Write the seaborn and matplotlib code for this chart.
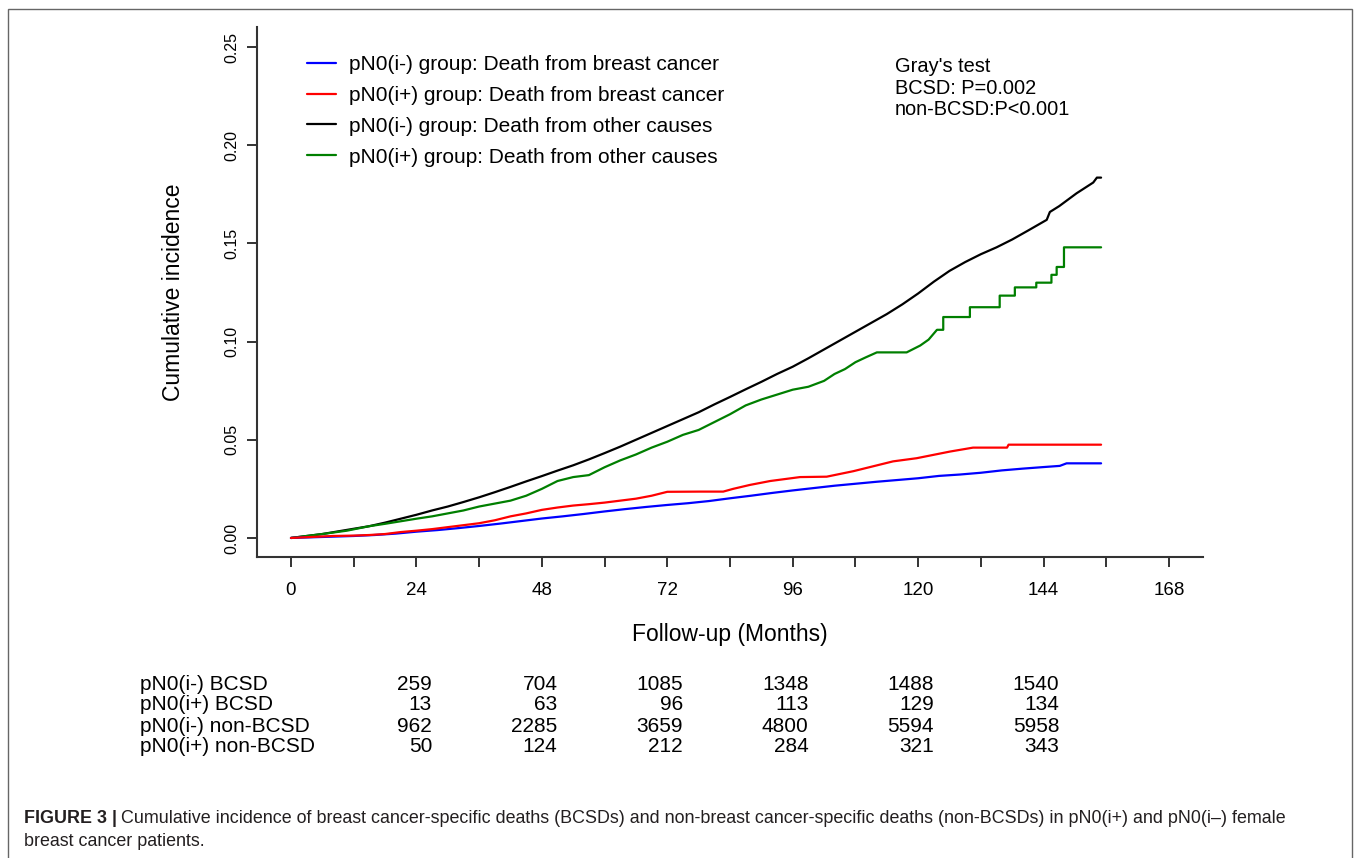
import matplotlib
matplotlib.use("Agg")
import matplotlib.pyplot as plt
import matplotlib.transforms as mtransforms
from matplotlib.patches import Rectangle
from matplotlib.ticker import FormatStrFormatter
import pandas as pd
import seaborn as sns

W, H = 1357, 858

# cumulative incidence curves (months, value);
# repeated months mark the visible vertical jumps
blue_t = [0, 12, 16, 20, 24, 28, 32, 36, 40, 44, 48, 52, 56, 60, 64, 68, 72, 76, 80, 84, 88, 92,
          96, 100, 104, 108, 112, 116, 120, 124, 128, 132, 136, 140, 144, 147.1, 148.4, 155]
blue_ci = [0, 0.001, 0.0015, 0.0022, 0.0032, 0.004, 0.005, 0.0061, 0.0073, 0.0086, 0.0099, 0.011,
           0.0122, 0.0135, 0.0147, 0.0158, 0.0168, 0.0177, 0.0188, 0.0202, 0.0215, 0.0229, 0.0242,
           0.0254, 0.0266, 0.0276, 0.0286, 0.0295, 0.0304, 0.0316, 0.0323, 0.0332, 0.0344, 0.0353,
           0.0361, 0.0367, 0.038, 0.038]

red_t = [0, 4, 8, 12, 15, 18, 21, 24, 27, 30, 33, 36, 39, 42, 45, 48, 51, 54, 57, 60, 63, 66, 69,
         72, 78.3, 82.7, 84.6, 87.8, 91.7, 97.4, 102.5, 107.6, 115.2, 119.7, 126.1, 130.5, 137,
         137.3, 155]
red_ci = [0, 0.0005, 0.001, 0.0012, 0.0015, 0.002, 0.003, 0.0037, 0.0045, 0.0055, 0.0065, 0.0075,
          0.009, 0.011, 0.0125, 0.0143, 0.0155, 0.0165, 0.0172, 0.018, 0.019, 0.020, 0.0215, 0.0235,
          0.0236, 0.0236, 0.025, 0.027, 0.029, 0.031, 0.0312, 0.034, 0.039, 0.0406, 0.044, 0.046,
          0.046, 0.0475, 0.0475]

black_t = [0, 6, 10.7, 15, 18, 21, 24, 27, 30, 33, 36, 39, 42, 45, 48, 51, 54, 57, 60, 63, 66,
           69, 72, 75, 78, 81, 84, 87, 90, 93, 96, 99, 102, 105, 108, 111, 114, 117, 120, 123, 126,
           129, 132, 135, 138, 141, 144.6, 145.2, 147, 150.3, 153.5, 154.2, 155]
black_ci = [0, 0.002, 0.0041, 0.006, 0.0078, 0.0098, 0.0118, 0.014, 0.016, 0.0183,
            0.0207, 0.0233, 0.026, 0.0288, 0.0315, 0.0343, 0.037, 0.040, 0.0432, 0.0465, 0.050,
            0.0535, 0.057, 0.0605, 0.064, 0.068, 0.0718, 0.0757, 0.0795, 0.0835, 0.0872, 0.0915,
            0.096, 0.1005, 0.105, 0.1095, 0.114, 0.119, 0.1245, 0.1305, 0.136, 0.1405, 0.1445,
            0.148, 0.152, 0.1565, 0.162, 0.166, 0.169, 0.1755, 0.181, 0.1835, 0.1835]

green_t = [0, 6, 10.7, 15, 18, 21, 24, 27, 30, 33, 36, 39, 42, 45, 48, 51, 54, 57, 60, 63, 66,
           69, 72, 75, 78, 81, 84, 87, 90, 93, 96, 99, 102, 104, 106, 108, 110, 112.1, 117.8, 120.4,
           122, 123.6, 124.8, 124.8, 129.9, 129.9, 135.6, 135.6, 138.5, 138.5, 142.6, 142.6, 145.5,
           145.5, 146.5, 146.5, 147.9, 147.9, 155]
green_ci = [0, 0.002, 0.0037, 0.006, 0.0072, 0.0085, 0.0098, 0.011, 0.0125, 0.014,
            0.016, 0.0175, 0.019, 0.0215, 0.025, 0.029, 0.031, 0.032, 0.036, 0.0395, 0.0425, 0.046,
            0.049, 0.0525, 0.055, 0.059, 0.063, 0.0675, 0.0705, 0.073, 0.0755, 0.077, 0.080, 0.0835,
            0.086, 0.0895, 0.092, 0.0945, 0.0945, 0.098, 0.101, 0.106, 0.106, 0.1125, 0.1125,
            0.1175, 0.1175, 0.1234, 0.1234, 0.1276, 0.1276, 0.130, 0.130, 0.134, 0.134, 0.138,
            0.138, 0.148, 0.148]

legend_labels = ["pN0(i-) group: Death from breast cancer",
                 "pN0(i+) group: Death from breast cancer",
                 "pN0(i-) group: Death from other causes",
                 "pN0(i+) group: Death from other causes"]

# risk table
table_rows = ["pN0(i-) BCSD", "pN0(i+) BCSD", "pN0(i-) non-BCSD", "pN0(i+) non-BCSD"]
table_months = [24, 48, 72, 96, 120, 144]
table_counts = [[259, 704, 1085, 1348, 1488, 1540],
                [13, 63, 96, 113, 129, 134],
                [962, 2285, 3659, 4800, 5594, 5958],
                [50, 124, 212, 284, 321, 343]]

caption_bold = "FIGURE 3 |"
caption_1 = ("Cumulative incidence of breast cancer-specific deaths (BCSDs) and non-breast "
             "cancer-specific deaths (non-BCSDs) in pN0(i+) and pN0(i\u2013) female")
caption_2 = "breast cancer patients."

sns.set_style("ticks")
plt.rcParams['font.family'] = ['Liberation Sans', 'DejaVu Sans']
plt.rcParams['text.color'] = 'black'
plt.rcParams['axes.labelcolor'] = 'black'

fig = plt.figure(figsize=(W / 100, H / 100), dpi=100)
ax = fig.add_axes([257 / W, 1 - 557 / H, (1203 - 257) / W, (557 - 27) / H])

series = {
    legend_labels[2]: (black_t, black_ci, "black"),
    legend_labels[3]: (green_t, green_ci, "#007F00"),
    legend_labels[0]: (blue_t, blue_ci, "#0000FF"),
    legend_labels[1]: (red_t, red_ci, "#FF0000"),
}
for label, (t, ci, color) in series.items():
    df = pd.DataFrame({"month": t, "ci": ci})
    sns.lineplot(data=df, x="month", y="ci", color=color, lw=1.6, sort=False,
                 estimator=None, label=label, ax=ax)

ax.set_xlim(-6.5, 174.5)
ax.set_ylim(-0.0097, 0.2602)
ax.set_xticks(range(0, 169, 24))
ax.set_xticks(range(12, 169, 24), minor=True)
ax.set_yticks([0, 0.05, 0.10, 0.15, 0.20, 0.25])
ax.yaxis.set_major_formatter(FormatStrFormatter("%.2f"))
ax.tick_params(which="both", length=7, width=1.4, color="#333333", labelcolor="black",
               direction="out")
ax.tick_params(axis="x", labelsize=13.5, pad=11)
ax.tick_params(axis="y", labelsize=11.5, pad=6)
for lab in ax.get_yticklabels():
    lab.set_rotation(90)
    lab.set_va("center")
sns.despine(ax=ax)
for s in ("left", "bottom"):
    ax.spines[s].set_linewidth(1.5)
    ax.spines[s].set_color("#333333")

ax.set_xlabel("Follow-up (Months)", fontsize=16.5, labelpad=17)
ax.set_ylabel("Cumulative incidence", fontsize=16.5, labelpad=28)

handles, labels = ax.get_legend_handles_labels()
order = [labels.index(l) for l in legend_labels]
ax.legend([handles[i] for i in order], [labels[i] for i in order], loc="upper left",
          bbox_to_anchor=(307 / W, 1 - 55 / H), bbox_transform=fig.transFigure, frameon=False,
          fontsize=15, handlelength=1.4, handletextpad=0.6, labelspacing=0.57,
          borderpad=0, borderaxespad=0)

fig.text(895 / W, 1 - 88 / H, "Gray's test\nBCSD: P=0.002\nnon-BCSD:P<0.001", fontsize=14.4,
         va="center", ha="left", linespacing=1.15)

# risk table below the axis
row_y = [684, 705, 726, 747]
tr = mtransforms.blended_transform_factory(ax.transData, fig.transFigure)
for name, counts, y in zip(table_rows, table_counts, row_y):
    fig.text(140 / W, 1 - y / H, name, fontsize=15, va="center", ha="left")
    for m, c in zip(table_months, counts):
        ax.text(m + 3, 1 - y / H, str(c), transform=tr, fontsize=15, va="center", ha="right",
                clip_on=False)

# frame and caption
fig.patches.append(Rectangle((8 / W, -0.1), (1352 - 8) / W, 1.1 - 9 / H, transform=fig.transFigure,
                             fill=False, edgecolor="#666666", lw=1))
cap_kw = dict(fontsize=12.9, va="baseline", ha="left", color="#231F20")
tb = fig.text(24 / W, 1 - 823 / H, caption_bold, fontweight="bold", **cap_kw)
fig.canvas.draw()
bb = tb.get_window_extent()
fig.text((bb.x1 + 4) / W, 1 - 823 / H, caption_1, **cap_kw)
fig.text(24 / W, 1 - 846 / H, caption_2, **cap_kw)

fig.savefig("out.png", dpi=100)
